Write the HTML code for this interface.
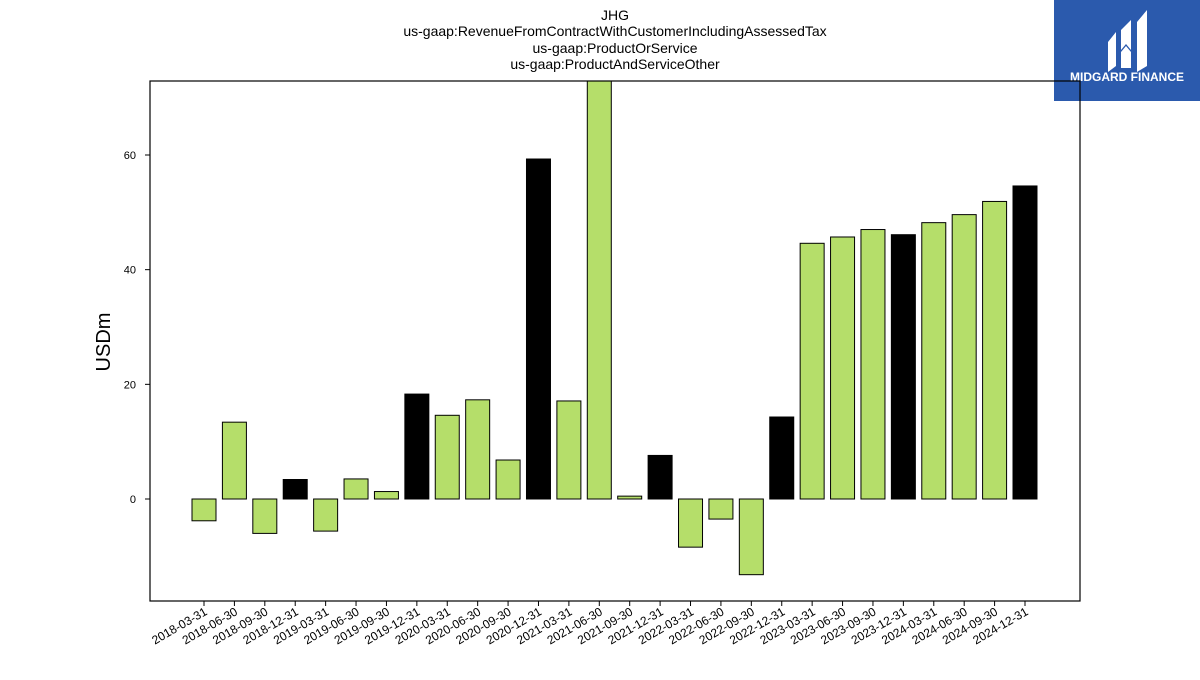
<!DOCTYPE html>
<html><head><meta charset="utf-8"><style>
body{margin:0;width:1200px;height:675px;background:#fff;overflow:hidden;font-family:"Liberation Sans","DejaVu Sans",sans-serif;}
</style></head><body>
<svg width="1200" height="675" id="svg">
<g font-size="14" text-anchor="middle" fill="#000">
<text x="615" y="20">JHG</text>
<text x="615" y="36">us-gaap:RevenueFromContractWithCustomerIncludingAssessedTax</text>
<text x="615" y="53">us-gaap:ProductOrService</text>
<text x="615" y="69">us-gaap:ProductAndServiceOther</text>
</g>
<g>
<rect x="1054" y="0" width="146" height="101" fill="#2b5aad"/>
<path d="M1108 42 L1116 32 L1116 66 L1108 72 Z M1121 30 L1131 20 L1131 50 L1126 44 L1121 50 Z M1137 22 L1147 10 L1147 66 L1137 72 Z M1121 52 L1126 46 L1131 52 L1131 68 L1121 68 Z" fill="#fff"/>
<text x="1127" y="81" font-size="12" font-weight="bold" fill="#fff" text-anchor="middle">MIDGARD FINANCE</text>
</g>
<text x="110" y="342" font-size="20" text-anchor="middle" transform="rotate(-90 110 342)">USDm</text>
<defs><clipPath id="pc"><rect x="150" y="81" width="930" height="520"/></clipPath></defs>
<g id="bars" clip-path="url(#pc)"></g>
<g id="axes"></g>
<rect x="150" y="81" width="930" height="520" fill="none" stroke="#000" stroke-width="1.2"/>
</svg>
<script>
const categories=["2018-03-31","2018-06-30","2018-09-30","2018-12-31","2019-03-31","2019-06-30","2019-09-30","2019-12-31","2020-03-31","2020-06-30","2020-09-30","2020-12-31","2021-03-31","2021-06-30","2021-09-30","2021-12-31","2022-03-31","2022-06-30","2022-09-30","2022-12-31","2023-03-31","2023-06-30","2023-09-30","2023-12-31","2024-03-31","2024-06-30","2024-09-30","2024-12-31"];
const values=[-3.8,13.4,-6.0,3.4,-5.6,3.5,1.3,18.3,14.6,17.3,6.8,59.3,17.1,80,0.5,7.6,-8.4,-3.5,-13.2,14.3,44.6,45.7,47.0,46.1,48.2,49.6,51.9,54.6];
const yTicks=[0,20,40,60];
const NS="http://www.w3.org/2000/svg";
const y=v=>499-v*(344/60);
const x=i=>204+i*(1025-204)/(categories.length-1);
const bars=document.getElementById('bars'),axes=document.getElementById('axes');
function mk(tag,attrs,parent){const e=document.createElementNS(NS,tag);for(const k in attrs)e.setAttribute(k,attrs[k]);parent.appendChild(e);return e;}
categories.forEach((c,i)=>{
 const v=values[i];const black=c.endsWith("12-31");
 const r=mk('rect',{x:x(i)-12,y:Math.min(y(v),y(0)),width:24,height:Math.abs(y(v)-y(0)),fill:black?'#000':'#b5de6a',stroke:'#000','stroke-width':1},bars);
 
 
 const t=mk('line',{x1:x(i),x2:x(i),y1:601,y2:606,stroke:'#000'},axes);
 
 
 const l=mk('text',{x:x(i)+4,y:614,'font-size':12,'text-anchor':'end',transform:`rotate(-30 ${x(i)+4} 614)`},axes);
 l.textContent=c;
 
 
});
yTicks.forEach(v=>{
 const t=mk('line',{x1:145,x2:150,y1:y(v),y2:y(v),stroke:'#000'},axes);
 
 
 const l=mk('text',{x:136,y:y(v)+4,'font-size':11,'text-anchor':'end'},axes);
 l.textContent=v;
 
 
});
</script>
</body></html>
